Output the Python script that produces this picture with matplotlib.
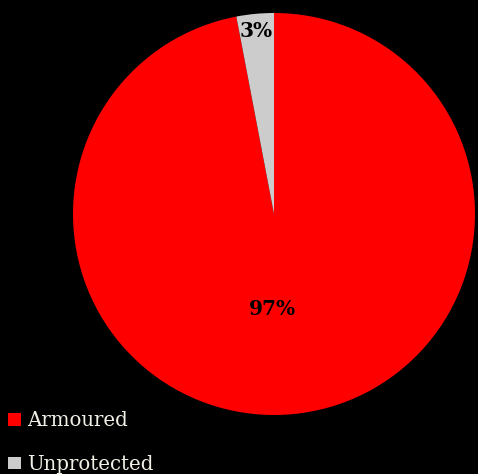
import numpy as np
import matplotlib
matplotlib.use("Agg")
import matplotlib.pyplot as plt
from matplotlib.patches import Patch

categories = ["Armoured", "Unprotected"]
shares = [97, 3]
colors = ["#FF0000", "#CCCCCC"]

W, H = 478, 474
fig = plt.figure(figsize=(W / 100, H / 100), dpi=100, facecolor="black")

cx, cy, r = 274, 214, 201
ax = fig.add_axes([(cx - r) / W, (H - cy - r) / H, 2 * r / W, 2 * r / H])
ax.set_facecolor("black")

wedges, _ = ax.pie(shares, colors=colors, startangle=90, counterclock=False,
                   radius=1.0, wedgeprops=dict(linewidth=0))
ax.set_xlim(-1, 1)
ax.set_ylim(-1, 1)
ax.set_aspect("auto")
ax.axis("off")

# percentage labels: the large share sits below the centre, the small one near the rim
label_pos = [(-0.01, -0.475), (-0.09, 0.91)]
for (x, y), val in zip(label_pos, shares):
    ax.text(x, y, f"{val}%", ha="center", va="center",
            fontsize=14.5, fontweight="bold", family="DejaVu Serif", color="black")

handles = [Patch(facecolor=c, edgecolor="none") for c in colors]
leg = fig.legend(handles, categories, loc="lower left", bbox_to_anchor=(-0.007, -0.025),
                 frameon=False, handlelength=0.62, handleheight=0.62,
                 handletextpad=0.32, labelspacing=1.25, borderaxespad=0.2,
                 prop=dict(family="DejaVu Serif", size=14.2))
for t in leg.get_texts():
    t.set_color("#F2F0E6")

fig.savefig("out.png", dpi=100, facecolor="black")
